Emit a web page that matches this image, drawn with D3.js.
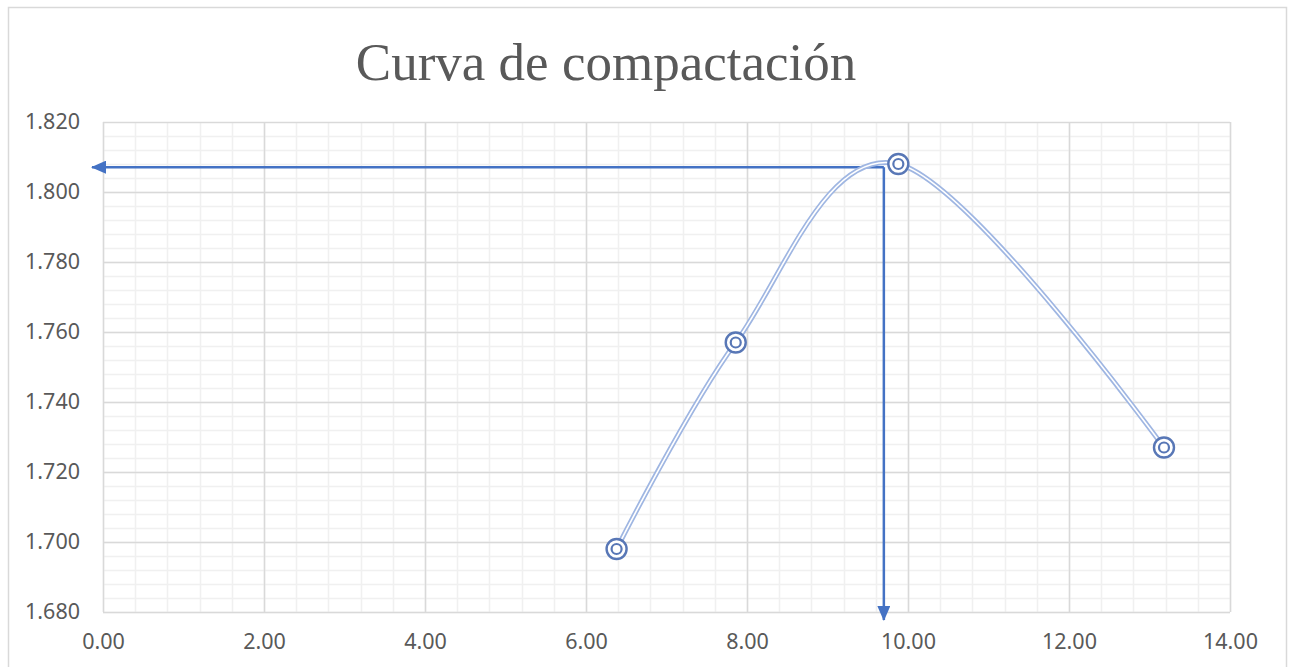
<!DOCTYPE html>
<html>
<head>
<meta charset="utf-8">
<script src="https://cdn.jsdelivr.net/npm/d3@7"></script>
<style>
  body { margin: 0; background: #fff; }
  svg { display: block; }
</style>
</head>
<body>
<div id="chart"></div>
<script>
// humedad (%) vs densidad seca
var humedad = [6.38, 7.86, 9.88, 13.18];
var densidad = [1.698, 1.757, 1.808, 1.727];
var xTicks = [0, 2, 4, 6, 8, 10, 12, 14];
var yTicks = [1.68, 1.70, 1.72, 1.74, 1.76, 1.78, 1.80, 1.82];
var optimo = { x: 9.70, y: 1.8071 };

var W = 1292, H = 667;
var margin = { top: 122, right: 62, bottom: 55, left: 103 };
var width = W - margin.left - margin.right,
    height = H - margin.top - margin.bottom;

var svg = d3.select('#chart').append('svg').attr('width', W).attr('height', H);

// chart area border
svg.append('rect').attr('x', 8.5).attr('y', 7.5).attr('width', 1278).attr('height', 680)
  .attr('fill', '#fff').attr('stroke', '#d9d9d9').attr('stroke-width', 1.5);

svg.append('text').text('Curva de compactación')
  .attr('x', 606).attr('y', 80).attr('text-anchor', 'middle')
  .style('font-family', '"Liberation Serif", "Times New Roman", serif')
  .style('font-size', '53px').style('fill', '#595959');

var xScale = d3.scaleLinear().domain([0, 14]).range([0, width]);
var yScale = d3.scaleLinear().domain([1.68, 1.82]).range([height, 0]);

var g = svg.append('g').attr('transform', 'translate(' + margin.left + ',' + margin.top + ')');

// minor grid
var minorX = d3.range(0, 14.001, 0.4);
var minorY = d3.range(0, 35).map(function (i) { return 1.68 + i * 0.004; });
g.append('g').selectAll('line').data(minorX).enter().append('line')
  .attr('x1', function (d) { return Math.round(xScale(d)) + 0.5; })
  .attr('x2', function (d) { return Math.round(xScale(d)) + 0.5; })
  .attr('y1', 0).attr('y2', height)
  .attr('stroke', '#f0f0f0').attr('stroke-width', 1.5);
g.append('g').selectAll('line').data(minorY).enter().append('line')
  .attr('y1', function (d) { return Math.round(yScale(d)) + 0.5; })
  .attr('y2', function (d) { return Math.round(yScale(d)) + 0.5; })
  .attr('x1', 0).attr('x2', width)
  .attr('stroke', '#f0f0f0').attr('stroke-width', 1.5);

// major grid
g.append('g').selectAll('line').data(xTicks).enter().append('line')
  .attr('x1', function (d) { return Math.round(xScale(d)) + 0.5; })
  .attr('x2', function (d) { return Math.round(xScale(d)) + 0.5; })
  .attr('y1', 0).attr('y2', height)
  .attr('stroke', '#d9d9d9').attr('stroke-width', 1.5);
g.append('g').selectAll('line').data(yTicks).enter().append('line')
  .attr('y1', function (d) { return Math.round(yScale(d)) + 0.5; })
  .attr('y2', function (d) { return Math.round(yScale(d)) + 0.5; })
  .attr('x1', 0).attr('x2', width)
  .attr('stroke', '#d9d9d9').attr('stroke-width', 1.5);

// axes (labels only)
var xAxis = d3.axisBottom(xScale).tickValues(xTicks).tickSize(0).tickPadding(22)
  .tickFormat(d3.format('.2f'));
var yAxis = d3.axisLeft(yScale).tickValues(yTicks).tickSize(0).tickPadding(23)
  .tickFormat(d3.format('.3f'));
g.append('g').attr('transform', 'translate(0,' + height + ')').call(xAxis);
g.append('g').call(yAxis);
g.selectAll('.domain').remove();
g.selectAll('.tick text')
  .style('font-family', '"Noto Sans", "Liberation Sans", sans-serif')
  .style('font-size', '21.5px').style('fill', '#595959');

// arrows
var defs = svg.append('defs');
defs.append('marker').attr('id', 'arrow').attr('viewBox', '0 0 15 13')
  .attr('refX', 14).attr('refY', 6.5).attr('markerWidth', 15).attr('markerHeight', 13)
  .attr('markerUnits', 'userSpaceOnUse').attr('orient', 'auto')
  .append('path').attr('d', 'M0,0 L15,6.5 L0,13 Z').attr('fill', '#4472c4');

var ox = xScale(optimo.x), oy = yScale(optimo.y);
g.append('path')
  .attr('d', 'M' + ox + ',' + oy + ' L' + (xScale(0) - 11) + ',' + oy)
  .attr('stroke', '#4472c4').attr('stroke-width', 2.5).attr('fill', 'none')
  .attr('marker-end', 'url(#arrow)');
g.append('path')
  .attr('d', 'M' + ox + ',' + oy + ' L' + ox + ',' + (yScale(1.68) + 8))
  .attr('stroke', '#4472c4').attr('stroke-width', 2.5).attr('fill', 'none')
  .attr('marker-end', 'url(#arrow)');

// smoothed double line
var pts = humedad.map(function (h, i) { return [h, densidad[i]]; });
var line = d3.line()
  .x(function (d) { return xScale(d[0]); })
  .y(function (d) { return yScale(d[1]); })
  .curve(d3.curveCardinal.tension(0));
g.append('path').datum(pts).attr('d', line)
  .attr('fill', 'none').attr('stroke', '#9fb6e2').attr('stroke-width', 5);
g.append('path').datum(pts).attr('d', line)
  .attr('fill', 'none').attr('stroke', '#fff').attr('stroke-width', 1.6);

// markers
var mk = g.append('g').selectAll('g').data(pts).enter().append('g')
  .attr('transform', function (d) { return 'translate(' + xScale(d[0]) + ',' + yScale(d[1]) + ')'; });
mk.append('circle').attr('r', 10).attr('fill', '#fff')
  .attr('stroke', '#5877b6').attr('stroke-width', 2.4);
mk.append('circle').attr('r', 5).attr('fill', 'none')
  .attr('stroke', '#5877b6').attr('stroke-width', 2.2);
</script>
</body>
</html>
